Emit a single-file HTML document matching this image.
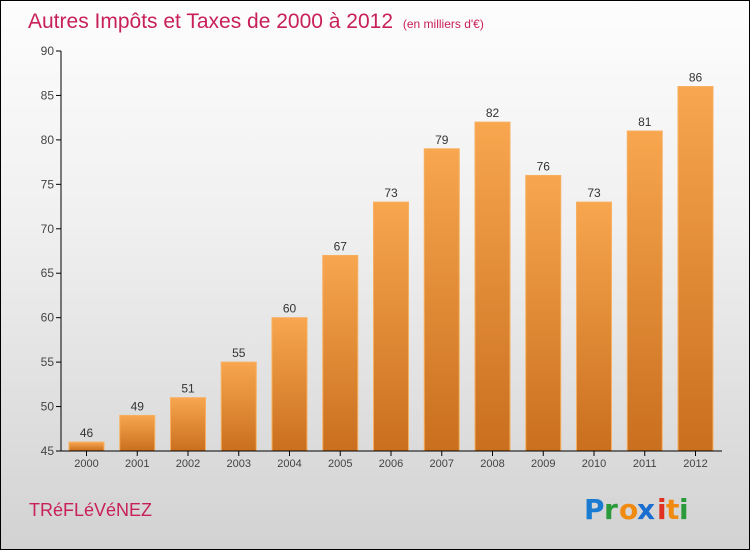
<!DOCTYPE html>
<html><head><meta charset="utf-8"><style>
body{margin:0}
#c{width:750px;height:550px;position:relative;box-sizing:border-box;border:1px solid #000;background:linear-gradient(#fdfdfd,#f0f0f0 40%,#d2d2d2);font-family:"Liberation Sans",sans-serif;overflow:hidden}
</style></head><body>
<div id="c">
<svg width="750" height="550" style="position:absolute;left:0;top:0">
<defs><linearGradient id="bg" x1="0" y1="0" x2="0" y2="1"><stop offset="0" stop-color="#f8a64f"/><stop offset="1" stop-color="#c96f1e"/></linearGradient></defs>
<text x="27" y="27" font-size="21" fill="#c8205a">Autres Impôts et Taxes de 2000 à 2012 <tspan font-size="12" dx="4">(en milliers d'€)</tspan></text>
<g id="plot"></g>
<text x="28" y="515" font-size="18" fill="#c8205a">TRéFLéVéNEZ</text>
<g font-size="28" font-weight="bold" font-family="DejaVu Sans, sans-serif">
<text x="583" y="518" fill="#1a7bd0">P</text><text x="603" y="518" fill="#2a9a3a">r</text><text x="618" y="518" fill="#f08a10">o</text><text x="636" y="518" fill="#1a6ed0">x</text><text x="656" y="518" fill="#e03020">i</text><text x="665" y="518" fill="#f08a10">t</text><text x="678" y="518" fill="#2a9a3a">i</text>
</g>
</svg>
</div>
<script>
const years=["2000","2001","2002","2003","2004","2005","2006","2007","2008","2009","2010","2011","2012"];
const values=[46,49,51,55,60,67,73,79,82,76,73,81,86];
const yTicks=[45,50,55,60,65,70,75,80,85,90];
const NS="http://www.w3.org/2000/svg";
const g=document.getElementById('plot');
const y=v=>450-(v-45)*400/45;
const x=i=>85.5+i*50.75;
function mk(t,a){const e=document.createElementNS(NS,t);for(const k in a)e.setAttribute(k,a[k]);g.appendChild(e);return e;}
yTicks.forEach(t=>{
 const l=mk('line',{x1:55,x2:60,y1:y(t),y2:y(t),stroke:'#000'});
 
 
 const tx=mk('text',{x:53,y:y(t)+4,'font-size':12,'text-anchor':'end',fill:'#444'});tx.textContent=t;
 
 
});
values.forEach((v,i)=>{
 const r=mk('rect',{x:x(i)-17.5,y:y(v),width:35,height:450-y(v),fill:'url(#bg)',stroke:'#f7b060','stroke-width':1});
 
 
 const vt=mk('text',{x:x(i),y:y(v)-5,'font-size':12,'text-anchor':'middle',fill:'#333'});vt.textContent=v;
 
 
 const tk=mk('line',{x1:x(i),x2:x(i),y1:450,y2:455,stroke:'#000'});
 
 
 const xt=mk('text',{x:x(i),y:466,'font-size':11,'text-anchor':'middle',fill:'#444'});xt.textContent=years[i];
 
 
});
const ya=mk('line',{x1:60,x2:60,y1:50,y2:450,stroke:'#000'});


const xa=mk('line',{x1:60,x2:721,y1:450,y2:450,stroke:'#000'});


</script>
</body></html>
